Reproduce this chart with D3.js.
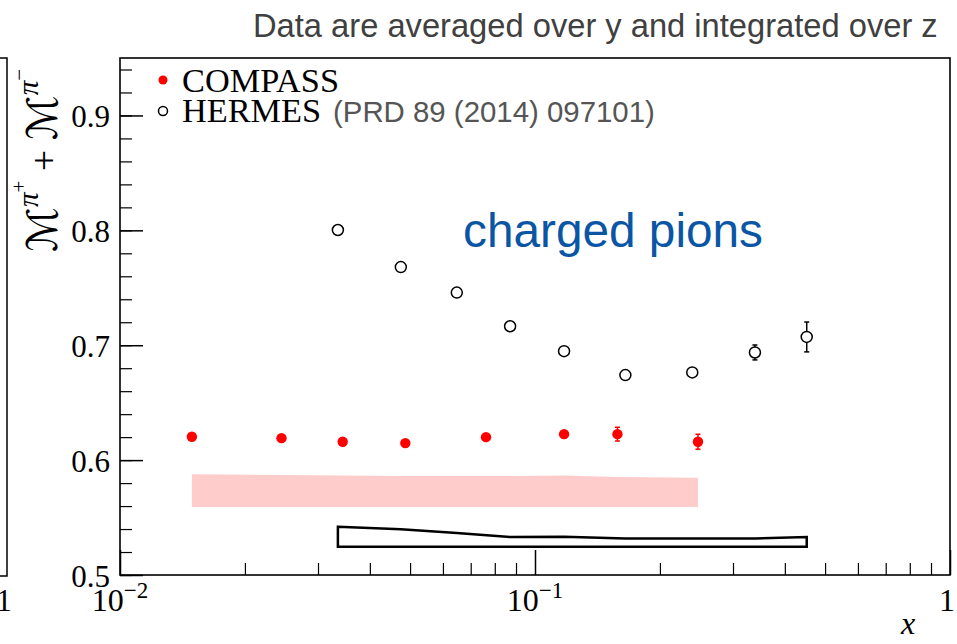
<!DOCTYPE html>
<html><head><meta charset="utf-8">
<script src="https://cdn.jsdelivr.net/npm/d3@7"></script>
<style>body{margin:0;background:#fff}</style>
</head><body><svg id="c" width="957" height="644"></svg>
<script>
// ---- data ----
const compassX = [0.0149, 0.0245, 0.0344, 0.0487, 0.0762, 0.1175, 0.158, 0.247];
const compassY = [0.6203, 0.6191, 0.6160, 0.6148, 0.6200, 0.6226, 0.6226, 0.6160];
const compassErr = [0.002, 0.002, 0.002, 0.002, 0.002, 0.003, 0.006, 0.0065];
const compassSysLow = [0.5591, 0.5591, 0.5591, 0.5591, 0.5591, 0.5591, 0.5591, 0.5591];
const compassSysHigh = [0.5876, 0.5870, 0.5865, 0.5861, 0.5861, 0.5865, 0.5852, 0.5846];

const hermesX = [0.0335, 0.0475, 0.0648, 0.0871, 0.1175, 0.1651, 0.2393, 0.3388, 0.4516];
const hermesY = [0.8003, 0.7680, 0.7458, 0.7165, 0.6948, 0.6740, 0.6763, 0.6937, 0.7072];
const hermesErr = [0.002, 0.002, 0.002, 0.002, 0.002, 0.003, 0.003, 0.0065, 0.013];
const hermesSysLow = [0.5246, 0.5246, 0.5246, 0.5246, 0.5246, 0.5246, 0.5246, 0.5246, 0.5246];
const hermesSysHigh = [0.5420, 0.5398, 0.5365, 0.5330, 0.5332, 0.5318, 0.5318, 0.5318, 0.5330];

const xMajorTicks = [0.01, 0.1, 1];
const xTickLabels = [["10", "\u22122"], ["10", "\u22121"], ["1", ""]];
const yMajorTicks = [0.5, 0.6, 0.7, 0.8, 0.9];
const yTickLabels = ["0.5", "0.6", "0.7", "0.8", "0.9"];

const titleText = "Data are averaged over y and integrated over z";
const annotation = "charged pions";
const legendNames = ["COMPASS", "HERMES"];
const legendRef = "(PRD 89 (2014) 097101)";

// ---- chart ----
const svg = d3.select("#c");
const L = 120, R = 950, T = 58, B = 575;
const x = d3.scaleLog().domain([0.01, 1]).range([L, R]);
const y = d3.scaleLinear().domain([0.5, 0.95]).range([B, T]);
const serif = "'Liberation Serif','Times New Roman',serif";
const sans = "'Liberation Sans',Arial,sans-serif";

function fit(sel, w) {
  const n = sel.node();
  const cur = parseFloat(sel.attr("font-size"));
  const len = n.getComputedTextLength();
  sel.attr("font-size", cur * w / len);
}

// left partial panel
svg.append("path").attr("d", "M0,58H7V576H0").attr("fill", "none").attr("stroke", "#000").attr("stroke-width", 1.5);
svg.append("text").attr("x", 4).attr("y", 611).attr("text-anchor", "middle")
  .attr("font-family", serif).attr("font-size", 31).text("1");

// compass systematic band
const cs = compassX.map((d, i) => ({x: d, lo: compassSysLow[i], hi: compassSysHigh[i]}));
svg.append("path").datum(cs)
  .attr("d", d3.area().x(d => x(d.x)).y0(d => y(d.lo)).y1(d => y(d.hi)))
  .attr("fill", "#ffcccc");

// hermes systematic band (outline)
const hs = hermesX.map((d, i) => ({x: d, lo: hermesSysLow[i], hi: hermesSysHigh[i]}));
svg.append("path").datum(hs)
  .attr("d", d3.area().x(d => x(d.x)).y0(d => y(d.lo)).y1(d => y(d.hi)))
  .attr("fill", "none").attr("stroke", "#000").attr("stroke-width", 2.5);

// axes
const xMinor = [];
[0.01, 0.1].forEach(b => { for (let k = 2; k <= 9; k++) xMinor.push(b * k); });
svg.append("g").attr("transform", `translate(0,${B})`)
  .call(d3.axisBottom(x).tickValues(xMinor).tickSize(-12).tickFormat(""))
  .call(g => g.select(".domain").remove())
  .selectAll("line").attr("stroke-width", 1.2);
svg.append("g").attr("transform", `translate(0,${B})`)
  .call(d3.axisBottom(x).tickValues(xMajorTicks).tickSize(-25).tickFormat(""))
  .call(g => g.select(".domain").remove())
  .selectAll("line").attr("stroke-width", 1.5);

const yMinor = d3.range(0, 23).map(i => +(0.5 + i * 0.02).toFixed(2));
svg.append("g").attr("transform", `translate(${L},0)`)
  .call(d3.axisLeft(y).tickValues(yMinor).tickSize(-12).tickFormat(""))
  .call(g => g.select(".domain").remove())
  .selectAll("line").attr("stroke-width", 1.2);
svg.append("g").attr("transform", `translate(${L},0)`)
  .call(d3.axisLeft(y).tickValues(yMajorTicks).tickSize(-23).tickFormat(""))
  .call(g => g.select(".domain").remove())
  .selectAll("line").attr("stroke-width", 1.5);

// frame
svg.append("rect").attr("x", L).attr("y", T).attr("width", R - L).attr("height", B - T)
  .attr("fill", "none").attr("stroke", "#000").attr("stroke-width", 1.6);

// y tick labels
yMajorTicks.forEach((v, i) => {
  svg.append("text").attr("x", 110).attr("y", y(v) + 12).attr("text-anchor", "end")
    .attr("font-family", serif).attr("font-size", 31).text(yTickLabels[i]);
});
// x tick labels
xMajorTicks.forEach((v, i) => {
  const t = svg.append("text").attr("x", v === 1 ? x(v) - 3 : x(v)).attr("y", 611)
    .attr("text-anchor", "middle").attr("font-family", serif).attr("font-size", 32);
  t.append("tspan").text(xTickLabels[i][0]);
  if (xTickLabels[i][1]) t.append("tspan").attr("dy", -13).attr("font-size", 23).text(xTickLabels[i][1]);
});
svg.append("text").attr("x", 908).attr("y", 634).attr("text-anchor", "middle")
  .attr("font-family", serif).attr("font-style", "italic").attr("font-size", 32).text("x");

// y title
const yt = svg.append("text").attr("transform", "translate(57,252) rotate(-90)")
  .attr("font-family", "'DejaVu Serif','DejaVu Sans',serif").attr("font-size", 42);
yt.append("tspan").text("\u2133");
yt.append("tspan").attr("dy", -19).attr("font-size", 29).attr("font-family", serif).attr("font-style", "italic").text("\u03c0");
yt.append("tspan").attr("dy", -12).attr("font-size", 21).attr("font-family", serif).text("+");
yt.append("tspan").attr("dy", 31).attr("font-family", serif).attr("font-size", 38).text(" + ");
yt.append("tspan").text("\u2133");
yt.append("tspan").attr("dy", -19).attr("font-size", 29).attr("font-family", serif).attr("font-style", "italic").text("\u03c0");
yt.append("tspan").attr("dy", -12).attr("font-size", 21).attr("font-family", serif).text("\u2212");

// HERMES points
const hg = svg.append("g");
hermesX.forEach((xv, i) => {
  const cx = x(xv), cy = y(hermesY[i]), r = 5.5;
  const top = y(hermesY[i] + hermesErr[i]), bot = y(hermesY[i] - hermesErr[i]);
  if (top < cy - r) {
    hg.append("line").attr("x1", cx).attr("x2", cx).attr("y1", top).attr("y2", cy - r).attr("stroke", "#000").attr("stroke-width", 1.5);
    hg.append("line").attr("x1", cx).attr("x2", cx).attr("y1", cy + r).attr("y2", bot).attr("stroke", "#000").attr("stroke-width", 1.5);
    hg.append("line").attr("x1", cx - 2.5).attr("x2", cx + 2.5).attr("y1", top).attr("y2", top).attr("stroke", "#000").attr("stroke-width", 1.5);
    hg.append("line").attr("x1", cx - 2.5).attr("x2", cx + 2.5).attr("y1", bot).attr("y2", bot).attr("stroke", "#000").attr("stroke-width", 1.5);
  }
  hg.append("circle").attr("cx", cx).attr("cy", cy).attr("r", r).attr("fill", "#fff").attr("stroke", "#000").attr("stroke-width", 1.5);
});

// COMPASS points
const cg = svg.append("g");
compassX.forEach((xv, i) => {
  const cx = x(xv), cy = y(compassY[i]);
  const top = y(compassY[i] + compassErr[i]), bot = y(compassY[i] - compassErr[i]);
  cg.append("line").attr("x1", cx).attr("x2", cx).attr("y1", top).attr("y2", bot).attr("stroke", "#f00").attr("stroke-width", 1.5);
  cg.append("line").attr("x1", cx - 2.5).attr("x2", cx + 2.5).attr("y1", top).attr("y2", top).attr("stroke", "#f00").attr("stroke-width", 1.5);
  cg.append("line").attr("x1", cx - 2.5).attr("x2", cx + 2.5).attr("y1", bot).attr("y2", bot).attr("stroke", "#f00").attr("stroke-width", 1.5);
  cg.append("circle").attr("cx", cx).attr("cy", cy).attr("r", 5.2).attr("fill", "#f00");
});

// legend
svg.append("circle").attr("cx", 163).attr("cy", 80).attr("r", 4.5).attr("fill", "#f00");
svg.append("circle").attr("cx", 163).attr("cy", 111).attr("r", 4.5).attr("fill", "#fff").attr("stroke", "#000").attr("stroke-width", 1.5);
const l1 = svg.append("text").attr("x", 182).attr("y", 91.5).attr("font-family", serif).attr("font-size", 33).text(legendNames[0]);
fit(l1, 157);
const l2 = svg.append("text").attr("x", 182).attr("y", 122).attr("font-family", serif).attr("font-size", 33).text(legendNames[1]);
l2.attr("font-size", l1.attr("font-size"));
const l3 = svg.append("text").attr("x", 333).attr("y", 122).attr("font-family", sans).attr("font-size", 22).attr("fill", "#555").text(legendRef);
fit(l3, 322);

// annotation
const an = svg.append("text").attr("x", 463).attr("y", 247).attr("font-family", sans).attr("font-size", 40).attr("fill", "#0a56a5").text(annotation);
fit(an, 300);

// title
const ti = svg.append("text").attr("x", 253).attr("y", 37).attr("font-family", sans).attr("font-size", 27).attr("fill", "#404040").text(titleText);
fit(ti, 685);
</script></body></html>
